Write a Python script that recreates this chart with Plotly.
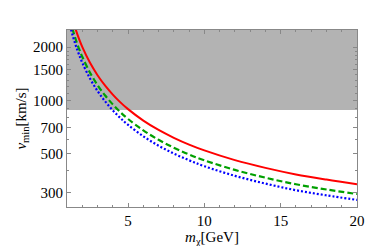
import math
import plotly.graph_objects as go

# Dark matter mass m_chi [GeV]
m_chi = [1.2, 1.3, 1.4, 1.5, 1.6, 1.8, 2, 2.5, 3, 3.5, 4, 4.5, 5, 6, 7, 8, 9, 10, 12, 14, 16, 18, 20]

# v_min [km/s]
v_red = [3244, 3006, 2803, 2626, 2471, 2213, 2007, 1636, 1388, 1211, 1079, 975, 893,
         769, 681, 615, 563, 522, 460, 416, 382, 357, 336]
v_green = [2855, 2645, 2467, 2311, 2174, 1947, 1766, 1440, 1221, 1066, 950, 858, 786,
           677, 599, 541, 495, 459, 405, 366, 336, 314, 296]
v_blue = [2644, 2450, 2284, 2140, 2014, 1804, 1636, 1333, 1131, 987, 879, 795, 728,
          627, 555, 501, 459, 425, 375, 339, 311, 291, 274]

# excluded (shaded) band in v_min
band_low = 882
band_high = 2500

x_range = [1, 20]
y_range = [250, 2500]
y_ticks = [300, 500, 700, 1000, 1500, 2000]
y_minor = [400, 600, 800, 900, 1100, 1200, 1300, 1400, 1600, 1700, 1800, 1900]
x_ticks = [5, 10, 15, 20]

fig = go.Figure()

fig.add_trace(go.Scatter(
    x=[x_range[0], x_range[1], x_range[1], x_range[0], x_range[0]],
    y=[band_low, band_low, band_high, band_high, band_low],
    fill="toself", fillcolor="#b3b3b3", mode="none", hoverinfo="skip",
))

fig.add_trace(go.Scatter(x=m_chi, y=v_red, mode="lines", line_shape="spline",
                         line=dict(color="#ff0000", width=2)))
fig.add_trace(go.Scatter(x=m_chi, y=v_green, mode="lines", line_shape="spline",
                         line=dict(color="#00a000", width=2.2, dash="6px,3px")))
fig.add_trace(go.Scatter(x=m_chi, y=v_blue, mode="lines", line_shape="spline",
                         line=dict(color="#0000ff", width=2.2, dash="2px,2px")))

font = dict(family="Liberation Serif, Times New Roman, serif", size=15, color="black")

fig.update_layout(
    width=374, height=246,
    margin=dict(l=56, r=25, t=22, b=44),
    paper_bgcolor="white", plot_bgcolor="white",
    showlegend=False,
    font=font,
)
fig.update_xaxes(
    range=x_range, tickvals=x_ticks, ticks="inside", ticklen=4, tickcolor="#888",
    showline=True, linecolor="#888", linewidth=1, mirror="ticks", showgrid=False, zeroline=False,
    minor=dict(ticks="inside", ticklen=2, tickcolor="#888", dtick=1),
    title=dict(text="<i>m</i><sub>χ</sub>[GeV]", standoff=2, font=font),
    tickfont=font,
)
fig.update_yaxes(
    type="log", range=[math.log10(y_range[0]), math.log10(y_range[1])],
    tickvals=y_ticks, ticktext=[str(v) for v in y_ticks],
    ticks="inside", ticklen=4, tickcolor="#888",
    showline=True, linecolor="#888", linewidth=1, mirror="ticks", showgrid=False, zeroline=False,
    minor=dict(ticks="inside", ticklen=2, tickcolor="#888", tickvals=y_minor),
    title=dict(text="<i>v</i><sub>min</sub>[km/s]", standoff=2, font=font),
    tickfont=font,
)

fig.write_html("out.html")
